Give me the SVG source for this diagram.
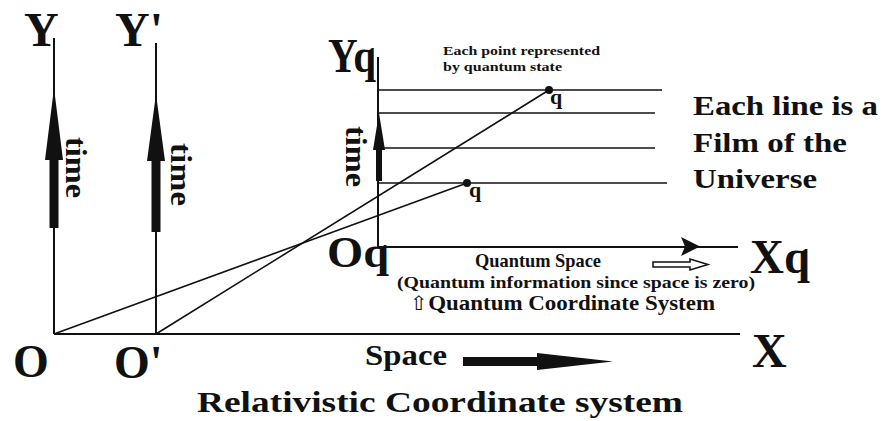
<svg xmlns="http://www.w3.org/2000/svg" width="891" height="421" viewBox="0 0 891 421">
<style>
text{font-family:"Liberation Serif","Times New Roman","DejaVu Serif",serif;font-weight:bold;fill:#111}
.ax{stroke:#111;stroke-width:2;fill:none}
.thin{stroke:#111;stroke-width:1.6;fill:none}
.blk{fill:#111;stroke:none}
</style>
<rect width="891" height="421" fill="#fff"/>
<g id="relativistic-axes">
<line class="ax" x1="54" y1="38" x2="54" y2="334"/>
<line class="ax" x1="156" y1="43" x2="156" y2="334"/>
<line class="ax" x1="54" y1="334" x2="740" y2="334"/>
<polygon class="blk" points="54,88 63,160 58.5,160 58.5,228 49.5,228 49.5,160 45,160"/>
<polygon class="blk" points="156,94 165,161 160.5,161 160.5,232 151.5,232 151.5,161 147,161"/>
<polygon class="blk" points="463,357 537,357 537,353 613,361.5 537,370 537,366 463,366"/>
</g>
<g id="labels-relativistic">
<text x="24" y="46" font-size="48">Y</text>
<text x="115" y="46" font-size="48">Y'</text>
<text x="13" y="377" font-size="46">O</text>
<text x="114" y="378" font-size="46">O'</text>
<text x="752" y="367" font-size="48">X</text>
<text x="365" y="365" font-size="29" textLength="82" lengthAdjust="spacingAndGlyphs">Space</text>
<text x="197" y="412" font-size="30" textLength="486" lengthAdjust="spacingAndGlyphs">Relativistic Coordinate system</text>
<text transform="translate(66,137) rotate(90)" font-size="30" textLength="61" lengthAdjust="spacingAndGlyphs">time</text>
<text transform="translate(171,143) rotate(90)" font-size="30" textLength="63" lengthAdjust="spacingAndGlyphs">time</text>
</g>
<g id="quantum-axes">
<line class="ax" x1="378" y1="57" x2="378" y2="247"/>
<line class="ax" x1="378" y1="247" x2="738" y2="247"/>
<polygon class="blk" points="379,113 385,150 382,150 382,181 376,181 376,150 373,150"/>
<polygon class="blk" points="681,237 700,246.5 681,256 685,246.5"/>
<polygon points="653,262 690,262 690,259 708,264.5 690,270 690,267 653,267" fill="#fff" stroke="#111" stroke-width="1.5"/>
</g>
<g id="films">
<line class="thin" x1="378" y1="90" x2="662" y2="90"/>
<line class="thin" x1="378" y1="113" x2="655" y2="113"/>
<line class="thin" x1="378" y1="148" x2="655" y2="148"/>
<line class="thin" x1="378" y1="183" x2="667" y2="183"/>
</g>
<g id="connectors">
<line class="thin" x1="54" y1="334" x2="467" y2="183"/>
<line class="thin" x1="156" y1="334" x2="549" y2="90"/>
<circle class="blk" cx="549" cy="90" r="4"/>
<circle class="blk" cx="467" cy="183" r="4"/>
</g>
<g id="labels-quantum">
<text x="328" y="72" font-size="48" textLength="48" lengthAdjust="spacingAndGlyphs">Yq</text>
<text x="327" y="267" font-size="44" textLength="62" lengthAdjust="spacingAndGlyphs">Oq</text>
<text x="750" y="273" font-size="48" textLength="60" lengthAdjust="spacingAndGlyphs">Xq</text>
<text x="550" y="104" font-size="22">q</text>
<text x="469" y="197" font-size="22">q</text>
<text transform="translate(346,126) rotate(90)" font-size="30" textLength="61" lengthAdjust="spacingAndGlyphs">time</text>
<text x="443" y="55" font-size="13" textLength="157" lengthAdjust="spacingAndGlyphs">Each point represented</text>
<text x="443" y="71" font-size="13" textLength="119" lengthAdjust="spacingAndGlyphs">by quantum state</text>
<text x="475" y="267" font-size="19" textLength="126" lengthAdjust="spacingAndGlyphs">Quantum Space</text>
<text x="397" y="288" font-size="16" textLength="358" lengthAdjust="spacingAndGlyphs">(Quantum information since space is zero)</text>
<text x="409" y="310" font-size="20" textLength="306" lengthAdjust="spacingAndGlyphs">⇧Quantum Coordinate System</text>
<text x="693" y="115" font-size="28" textLength="185" lengthAdjust="spacingAndGlyphs">Each line is a</text>
<text x="693" y="152" font-size="28" textLength="154" lengthAdjust="spacingAndGlyphs">Film of the</text>
<text x="693" y="188" font-size="28" textLength="124" lengthAdjust="spacingAndGlyphs">Universe</text>
</g>
</svg>
